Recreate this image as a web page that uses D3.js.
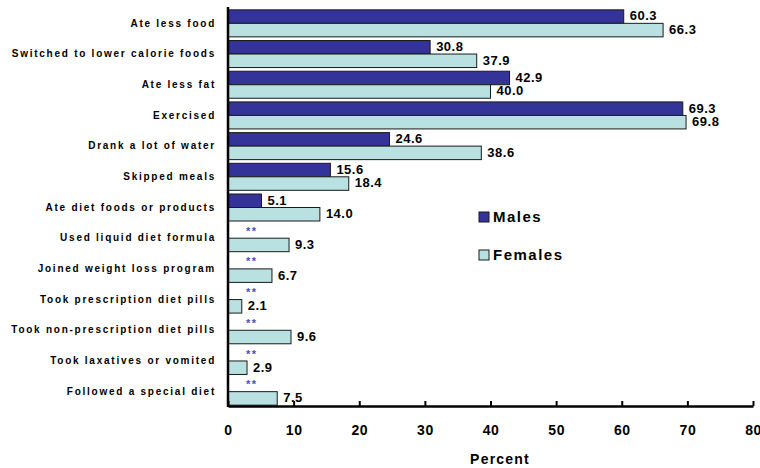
<!DOCTYPE html>
<html>
<head>
<meta charset="utf-8">
<script src="https://cdn.jsdelivr.net/npm/d3@7"></script>
<style>
  body { margin: 0; background: #fff; }
  text { font-family: "Liberation Sans", Arial, sans-serif; font-weight: bold; }
</style>
</head>
<body>
<div id="chart"></div>
<script>
'use strict'

// data
const categories = [
    'Ate less food',
    'Switched to lower calorie foods',
    'Ate less fat',
    'Exercised',
    'Drank a lot of water',
    'Skipped meals',
    'Ate diet foods or products',
    'Used liquid diet formula',
    'Joined weight loss program',
    'Took prescription diet pills',
    'Took non-prescription diet pills',
    'Took laxatives or vomited',
    'Followed a special diet'
]
// null = suppressed estimate, shown as **
const males = [60.3, 30.8, 42.9, 69.3, 24.6, 15.6, 5.1, null, null, null, null, null, null]
const females = [66.3, 37.9, 40.0, 69.8, 38.6, 18.4, 14.0, 9.3, 6.7, 2.1, 9.6, 2.9, 7.5]
const series = ['Males', 'Females']
const xTicks = [0, 10, 20, 30, 40, 50, 60, 70, 80]

const colors = { Males: '#333399', Females: '#b9e1e1' }

////////////////////////////////////
//////////// svg setup /////////////
////////////////////////////////////

const svgWidth = 760
const svgHeight = 468

const svg = d3.select('#chart')
    .append('svg')
    .attr('width', svgWidth)
    .attr('height', svgHeight)

////////////////////////////////////
//////////////scales////////////////
////////////////////////////////////

const xScale = d3.scaleLinear()
    .domain([0, 80])
    .range([228, 753])

const yScale = d3.scaleBand()
    .domain(categories)
    .range([8, 407])
    .paddingInner(0.12)
    .paddingOuter(0.06)

const ySub = d3.scaleBand()
    .domain(series)
    .range([0, yScale.bandwidth()])

const rows = categories.map((c, i) => ({ cat: c, Males: males[i], Females: females[i] }))

////////////////////////////////////
//////////////bars//////////////////
////////////////////////////////////

const groups = svg.selectAll('.grp')
    .data(rows)
    .join('g')
    .attr('class', 'grp')
    .attr('transform', d => `translate(0,${yScale(d.cat)})`)

groups.selectAll('rect')
    .data(d => series.filter(s => d[s] != null).map(s => ({ s, v: d[s] })))
    .join('rect')
    .attr('x', xScale(0))
    .attr('y', d => ySub(d.s))
    .attr('width', d => xScale(d.v) - xScale(0))
    .attr('height', ySub.bandwidth())
    .attr('fill', d => colors[d.s])
    .attr('stroke', '#1a1a1a')
    .attr('stroke-width', 1)

groups.selectAll('.val')
    .data(d => series.filter(s => d[s] != null).map(s => ({ s, v: d[s] })))
    .join('text')
    .attr('class', 'val')
    .attr('x', d => xScale(d.v) + 6)
    .attr('y', d => ySub(d.s) + ySub.bandwidth() / 2)
    .attr('dy', '0.3em')
    .attr('font-size', 13)
    .attr('letter-spacing', 0.5)
    .attr('fill', '#000')
    .text(d => d.v.toFixed(1))

// suppressed male estimates
groups.filter(d => d.Males == null)
    .append('text')
    .attr('x', xScale(0) + 18)
    .attr('y', ySub('Males') + ySub.bandwidth() / 2)
    .attr('dy', '0.3em')
    .attr('font-size', 11)
    .attr('letter-spacing', 1.5)
    .attr('fill', '#4d4dbb')
    .text('**')

////////////////////////////////////
//////////////axes//////////////////
////////////////////////////////////

const xAxis = svg.append('g')
    .attr('transform', `translate(0,${406})`)
    .call(d3.axisBottom(xScale)
        .tickValues(xTicks)
        .tickSizeInner(-5)
        .tickSizeOuter(0)
        .tickPadding(19))

xAxis.select('.domain').attr('stroke', '#000').attr('stroke-width', 2.5)
xAxis.selectAll('.tick line').attr('stroke', '#000').attr('stroke-width', 2)
xAxis.selectAll('.tick text')
    .attr('font-size', 14)
    .attr('letter-spacing', 0.5)
    .attr('font-family', '"Liberation Sans", Arial, sans-serif')
    .attr('font-weight', 'bold')
    .attr('fill', '#000')

const yAxis = svg.append('g')
    .attr('transform', `translate(${xScale(0)},0)`)
    .call(d3.axisLeft(yScale).tickSize(0).tickPadding(12))

yAxis.select('.domain')
    .attr('d', `M0,7V407`)
    .attr('stroke', '#000')
    .attr('stroke-width', 2.5)
yAxis.selectAll('.tick text')
    .attr('font-size', 10)
    .attr('letter-spacing', 1.75)
    .attr('font-family', '"Liberation Sans", Arial, sans-serif')
    .attr('font-weight', 'bold')
    .attr('fill', '#000')

svg.append('text')
    .attr('x', 500)
    .attr('y', 464)
    .attr('text-anchor', 'middle')
    .attr('font-size', 14)
    .attr('letter-spacing', 1.2)
    .text('Percent')

////////////////////////////////////
//////////////legend////////////////
////////////////////////////////////

const legend = svg.selectAll('.legend')
    .data(series)
    .join('g')
    .attr('class', 'legend')
    .attr('transform', (d, i) => `translate(479,${212 + i * 38})`)

legend.append('rect')
    .attr('width', 10)
    .attr('height', 10)
    .attr('fill', d => colors[d])
    .attr('stroke', '#1a1a1a')

legend.append('text')
    .attr('x', 14)
    .attr('y', 5)
    .attr('dy', '0.36em')
    .attr('font-size', 15)
    .attr('letter-spacing', 1.5)
    .text(d => d)
</script>
</body>
</html>
